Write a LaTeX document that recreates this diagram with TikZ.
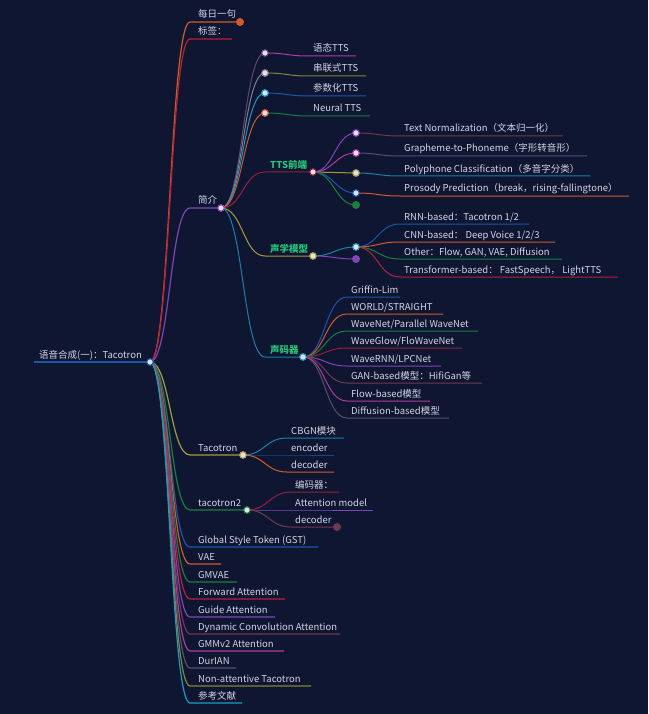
\documentclass[tikz,border=0pt]{standalone}
\usepackage{fontspec}
\setmainfont{Noto Sans CJK SC}
\usetikzlibrary{calc}
\definecolor{bg}{HTML}{0F1632}
\definecolor{tx}{HTML}{D4D3E4}
\definecolor{gl}{HTML}{22C47A}
\definecolor{cOr}{HTML}{D45A28}
\definecolor{cRd}{HTML}{B82238}
\definecolor{cCr}{HTML}{961E3C}
\definecolor{cPu}{HTML}{7E46B8}
\definecolor{cOl}{HTML}{A89A38}
\definecolor{cGn}{HTML}{18803E}
\definecolor{cBl}{HTML}{1A56AC}
\definecolor{cCy}{HTML}{1A9CC2}
\definecolor{cMa}{HTML}{74384E}
\definecolor{cPk}{HTML}{B03C9C}
\definecolor{cGr}{HTML}{56506C}
\definecolor{cOd}{HTML}{86862F}
\definecolor{cTe}{HTML}{1A80A8}
\definecolor{cDb}{HTML}{1A4886}
\definecolor{cDp}{HTML}{64466C}
\definecolor{cGy}{HTML}{847C90}
\definecolor{cGb}{HTML}{4E4E76}
\definecolor{dotf}{HTML}{E4E0F0}
\tikzset{
  link/.style={line width=1pt},
  lbl/.style={anchor=base west, inner sep=0pt, text=tx, font=\fontsize{9.5}{10}\selectfont},
  glbl/.style={lbl, text=gl, font=\fontsize{9.5}{10}\selectfont\bfseries},
  opendot/.style={draw=#1, fill=dotf, line width=1.1pt},
  fulldot/.style={fill=#1, draw=none},
}
% #1 name, #2 parent coord, #3 ctrl offset, #4 xs, #5 y, #6 xe, #7 colour, #8 text
\newcommand{\mmitem}[8]{%
  \coordinate (#1s) at (#4,-#5);
  \coordinate (#1e) at (#6,-#5);
  \draw[link,#7] (#2) .. controls +(#3,0) and +(-#3,0) .. (#1s) -- (#1e);
  \node[lbl] (#1) at ($(#1s)+(4,4)$) {#8};
}
\newcommand{\mmtop}[7]{%
  \coordinate (#1s) at (190,-#3);
  \coordinate (#1e) at (#4,-#3);
  \draw[link,#5] (#2) .. controls +(20,0) and +(-20,0) .. (#1s) -- (#1e);
  \node[#7] (#1) at ($(#1s)+(8,4)$) {#6};
}
\newcommand{\mmgreen}[8]{%
  \coordinate (#1s) at (#4,-#5);
  \coordinate (#1e) at (#6,-#5);
  \draw[link,#7] (#2) .. controls +(#3,0) and +(-#3,0) .. (#1s) -- (#1e);
  \node[glbl] (#1) at ($(#1s)+(5,4)$) {#8};
}
% empty node: #1 name, #2 parent, #3 ctrl, #4 x, #5 y, #6 colour
\newcommand{\mmempty}[6]{%
  \coordinate (#1e) at (#4,-#5);
  \draw[link,#6] (#2) .. controls +(#3,0) and +(-#3,0) .. (#1e);
}
\begin{document}
\begin{tikzpicture}[x=1pt,y=1pt]
\fill[bg] (0,0) rectangle (648,-714);
\useasboundingbox (0,0) rectangle (648,-714);

% root
\coordinate (roote) at (150,-362);
\coordinate (roots) at (34,-362);
\draw[cBl, line width=2.2pt] (roots) -- (roote);
\node[lbl] (root) at (39,-358) {语音合成(一)：Tacotron};

\tikzset{link/.style={line width=1.2pt}}
\mmtop{mr}{roote}{22}{240}{cOr}{每日一句}{lbl}
\mmtop{bq}{roote}{39}{232}{cRd}{标签：}{lbl}
\mmtop{jj}{roote}{208}{221}{cPu}{简介}{lbl}
\mmtop{tc}{roote}{455}{243}{cOl}{Tacotron}{lbl}
\mmtop{tt}{roote}{510}{247}{cGn}{tacotron2}{lbl}
\mmtop{gst}{roote}{547}{318}{cBl}{Global Style Token (GST)}{lbl}
\mmtop{vae}{roote}{564}{221}{cOr}{VAE}{lbl}
\mmtop{gmv}{roote}{582}{237}{cGn}{GMVAE}{lbl}
\mmtop{fwd}{roote}{599}{285}{cRd}{Forward Attention}{lbl}
\mmtop{gui}{roote}{617}{275}{cPu}{Guide Attention}{lbl}
\mmtop{dca}{roote}{634}{340}{cMa}{Dynamic Convolution Attention}{lbl}
\mmtop{gmm}{roote}{651}{284}{cPk}{GMMv2 Attention}{lbl}
\mmtop{dur}{roote}{668}{236}{cGr}{DurIAN}{lbl}
\mmtop{nat}{roote}{686}{311}{cOd}{Non-attentive Tacotron}{lbl}
\mmtop{ref}{roote}{703}{242}{cCy}{参考文献}{lbl}

\tikzset{link/.style={line width=1pt}}
% 简介 children
\mmempty{ea}{jje}{22}{265}{53}{cDp}
\mmempty{eb}{jje}{22}{265}{73}{cGy}
\mmempty{ec}{jje}{22}{265}{93}{cCy}
\mmempty{ed}{jje}{22}{265}{113}{cOr}
\mmitem{ya}{eae}{22}{309}{56}{356}{cPk}{语态TTS}
\mmitem{cl}{ebe}{22}{309}{76}{366}{cOd}{串联式TTS}
\mmitem{cs}{ece}{22}{309}{96}{366}{cBl}{参数化TTS}
\mmitem{nt}{ede}{22}{309}{116}{370}{cGn}{Neural TTS}

\mmgreen{qd}{jje}{22}{265}{172}{313}{cCr}{TTS前端}
\mmempty{qa}{qde}{21}{356}{133}{cPu}
\mmempty{qb}{qde}{21}{356}{153}{cPk}
\mmempty{qc}{qde}{21}{356}{173}{cOl}
\mmempty{qe}{qde}{21}{356}{193}{cBl}
\mmempty{qf}{qde}{21}{356}{205}{cGn}
\mmitem{tn}{qae}{22}{400}{136}{563}{cMa}{Text Normalization（文本归一化）}
\mmitem{gp}{qbe}{22}{400}{156}{587}{cGb}{Grapheme-to-Phoneme（字形转音形）}
\mmitem{pc}{qce}{22}{400}{176}{590}{cTe}{Polyphone Classification（多音字分类）}
\mmitem{pp}{qee}{22}{400}{196}{629}{cOr}{Prosody Prediction（break，rising-fallingtone）}

\mmgreen{sx}{jje}{22}{265}{256}{313}{cOl}{声学模型}
\mmempty{sa}{sxe}{21}{356}{247}{cTe}
\mmempty{sb}{sxe}{21}{356}{259}{cPu}
\mmitem{rnn}{sae}{22}{400}{224}{529}{cBl}{RNN-based：Tacotron 1/2}
\mmitem{cnn}{sae}{22}{400}{242}{555}{cOr}{CNN-based： Deep Voice 1/2/3}
\mmitem{oth}{sae}{22}{400}{259}{562}{cGn}{Other：Flow, GAN, VAE, Diffusion}
\mmitem{trf}{sae}{22}{400}{277}{618}{cRd}{Transformer-based： FastSpeech， LightTTS}

\mmgreen{sm}{jje}{22}{265}{357}{303}{cTe}{声码器}
\mmitem{gl}{sme}{22}{347}{297}{400}{cBl}{Griffin-Lim}
\mmitem{wd}{sme}{22}{347}{314}{443}{cOr}{WORLD/STRAIGHT}
\mmitem{wn}{sme}{22}{347}{331}{478}{cGn}{WaveNet/Parallel WaveNet}
\mmitem{wg}{sme}{22}{347}{348}{462}{cCr}{WaveGlow/FloWaveNet}
\mmitem{wr}{sme}{22}{347}{366}{441}{cPu}{WaveRNN/LPCNet}
\mmitem{gan}{sme}{22}{347}{383}{482}{cMa}{GAN-based模型：HifiGan等}
\mmitem{flo}{sme}{22}{347}{401}{430}{cPk}{Flow-based模型}
\mmitem{dif}{sme}{22}{347}{418}{449}{cGr}{Diffusion-based模型}

% Tacotron children
\mmitem{cb}{tce}{22}{287}{438}{344}{cTe}{CBGN模块}
\mmitem{en}{tce}{22}{287}{455}{334}{cDb}{encoder}
\mmitem{de}{tce}{22}{287}{472}{334}{cOr}{decoder}
% tacotron2 children
\mmitem{bm}{tte}{22}{291}{492}{339}{cCr}{编码器：}
\mmitem{am}{tte}{22}{291}{510}{373}{cPu}{Attention model}
\mmitem{dd}{tte}{22}{291}{527}{337}{cMa}{decoder}

% dots
\fill[fulldot=cOr] (mre) circle (4);
\fill[fulldot=cMa] (dde) circle (4);
\fill[fulldot=cGn] (qfe) circle (4);
\fill[fulldot=cPu] (sbe) circle (4);
\draw[opendot=cBl] (roote) circle (3.3);
\draw[opendot=cPu] (jje) circle (3.3);
\draw[opendot=cOl] (tce) circle (3.3);
\draw[opendot=cGn] (tte) circle (3.3);
\draw[opendot=cDp] (eae) circle (3.3);
\draw[opendot=cGy] (ebe) circle (3.3);
\draw[opendot=cCy] (ece) circle (3.3);
\draw[opendot=cOr] (ede) circle (3.3);
\draw[opendot=cCr] (qde) circle (3.3);
\draw[opendot=cPu] (qae) circle (3.3);
\draw[opendot=cPk] (qbe) circle (3.3);
\draw[opendot=cOl] (qce) circle (3.3);
\draw[opendot=cBl] (qee) circle (3.3);
\draw[opendot=cOl] (sxe) circle (3.3);
\draw[opendot=cCy] (sae) circle (3.3);
\draw[opendot=cCy] (sme) circle (3.3);
\end{tikzpicture}
\end{document}
